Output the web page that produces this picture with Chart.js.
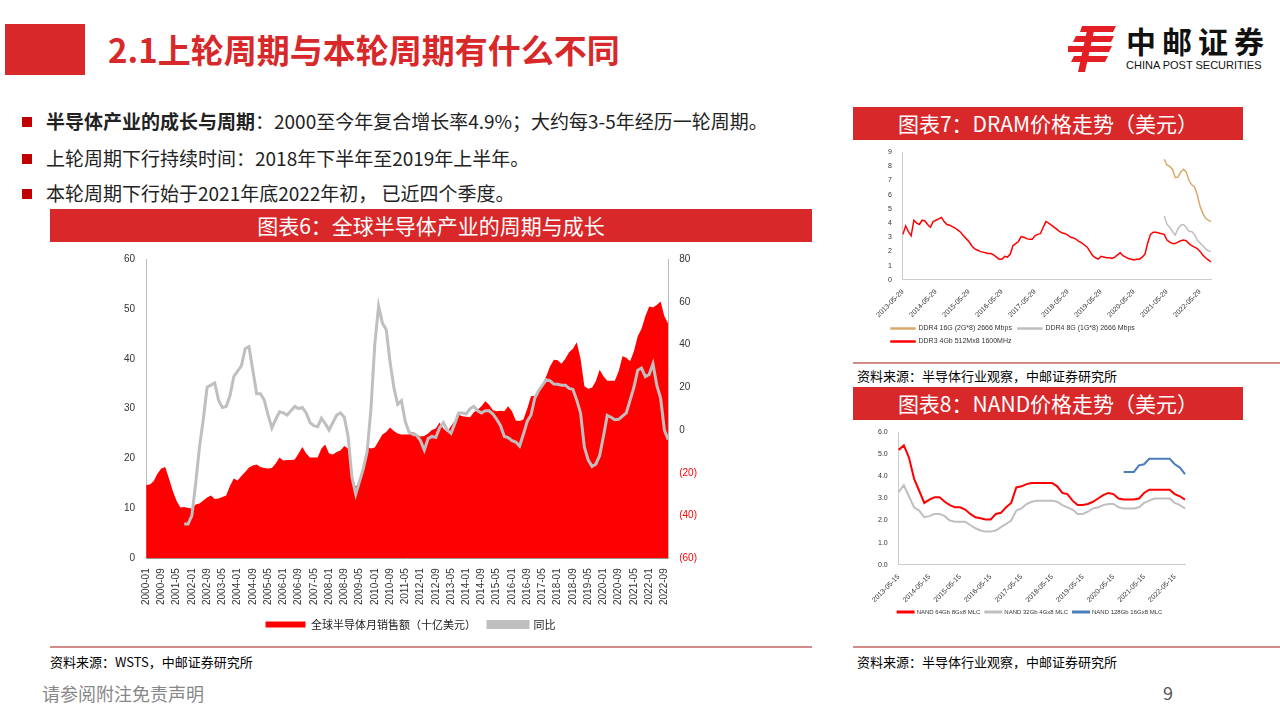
<!DOCTYPE html>
<html><head><meta charset="utf-8">
<script src="https://cdn.jsdelivr.net/npm/chart.js@4/dist/chart.umd.min.js"></script>
<style>
body{margin:0;width:1280px;height:720px;position:relative;background:#fff;font-family:"Noto Sans CJK SC","Noto Sans",sans-serif;overflow:hidden}
.abs{position:absolute}
.banner{position:absolute;background:#d9282a;color:#fff;text-align:center;font-size:21px;line-height:33px}
.bul{position:absolute;left:22px;font-size:19px;color:#222}
.bul:before{content:"";display:inline-block;width:10px;height:10px;background:#c00000;margin-right:14px;vertical-align:2px}
.src{position:absolute;font-size:13px;color:#000}
.hl{position:absolute;height:2px;background:#d58a8a}
canvas{position:absolute}
</style></head><body>
<div class="abs" style="left:5px;top:24px;width:80px;height:51px;background:#d9282a"></div>
<div class="abs" style="left:108px;top:24px;font-size:33px;font-weight:bold;color:#d9282a;line-height:50px">2.1上轮周期与本轮周期有什么不同</div>
<svg class="abs" style="left:1068px;top:26px" width="50" height="46" viewBox="0 0 50 46">
<g fill="#e31e24"><path d="M14 0h34l-3 6H12z"/><path d="M8 10h38l-3 6H5z"/><path d="M0 20h44l-3 6H0z"/><path d="M6 30h34l-3 6H3z"/><path d="M20 0h7l-10 46h-7z"/></g></svg>
<div class="abs" style="left:1126px;top:22px;font-size:30px;font-weight:bold;color:#111;letter-spacing:6px;line-height:36px">中邮证券</div>
<div class="abs" style="left:1126px;top:59px;font-size:11px;color:#111;font-family:'Liberation Sans'">CHINA POST SECURITIES</div>

<div class="bul" style="top:107px"><b>半导体产业的成长与周期</b>：2000至今年复合增长率4.9%；大约每3-5年经历一轮周期。</div>
<div class="bul" style="top:144px">上轮周期下行持续时间：2018年下半年至2019年上半年。</div>
<div class="bul" style="top:179px">本轮周期下行始于2021年底2022年初， 已近四个季度。</div>

<div class="banner" style="left:50px;top:209px;width:762px">图表6：全球半导体产业的周期与成长</div>
<canvas id="c1" style="left:100px;top:250px"></canvas>
<div class="hl" style="left:50px;top:646px;width:762px"></div>
<div class="src" style="left:50px;top:652px">资料来源：WSTS，中邮证券研究所</div>

<div class="banner" style="left:853px;top:107px;width:390px">图表7：DRAM价格走势（美元）</div>
<canvas id="c2" style="left:855px;top:145px"></canvas>
<div class="hl" style="left:853px;top:362px;width:427px"></div>
<div class="src" style="left:857px;top:366px">资料来源：半导体行业观察，中邮证券研究所</div>

<div class="banner" style="left:853px;top:387px;width:390px">图表8：NAND价格走势（美元）</div>
<canvas id="c3" style="left:855px;top:425px"></canvas>
<div class="hl" style="left:853px;top:646px;width:427px"></div>
<div class="src" style="left:857px;top:652px">资料来源：半导体行业观察，中邮证券研究所</div>

<div class="abs" style="left:42px;top:680px;font-size:18px;color:#888">请参阅附注免责声明</div>
<div class="abs" style="left:1163px;top:679px;font-size:18px;color:#555">9</div>
<script>
// ---- Chart 6 data (2-month steps, 2000-01 .. 2022-11)
const salesLabels=[];for(let m=0;m<=274;m+=2){salesLabels.push((2000+Math.floor(m/12))+'-'+String(m%12+1).padStart(2,'0'));}
const sales=[14.7,14.8,15.5,17,18,18.3,16,13.5,11.5,10.2,10.3,10.1,10,10.8,11,11.6,12.2,12.6,11.9,12,12.3,12.6,14.5,16,15.6,16.5,17.3,18.2,18.6,18.8,18.3,18.1,18,18.1,19,20.2,19.6,19.7,19.7,19.8,21,22.3,21,20.2,20.2,20.2,22,22.8,21,20.8,21.3,21.6,22.5,22,16.5,14.3,15.5,18,22.3,22,22.2,23.5,24.8,25.3,26.2,25.5,25,24.8,24.8,24.8,25.3,24.8,24.4,24.5,25,25.7,26,27.2,26,25.3,26.5,27.5,28.8,28.5,28.4,28.3,29.3,29.8,30.5,31.5,30.8,29.7,29.5,29.6,29.5,30.5,29.5,27.6,27.5,27.8,30,32.5,32.6,33.5,35,36.5,38.5,39.8,39.7,39,40,41.3,42,43.3,40,34.5,34,34.2,35.5,37.8,36.5,35.6,35.6,35.6,37.5,40.5,40.2,39.5,41.5,44.5,46,48.5,50.5,50.3,50.8,51.5,48.5,47];
const yoy=[null,null,null,null,null,null,13.7,null,-15.6,null,-44,-44,-40,-25,-8,5,20,21,22,14,10.5,11,16,25,27.5,30,38,39,28,17,17,14,7,1,5,8.5,8,7,9,11,10,10.5,8,3.5,2,1.5,5.5,3,0,3.5,7,8,6,-3,-22,-30,-24,-18,-10,10,40,58,50,47,32,20,12,13.7,4,-1,-2,-2.5,-5,-9.4,-4,-3,-3.5,1,3.5,0,-1.5,3,8,8,7.5,10,11,9,8,9,9,7.5,5,2,-3,-3.5,-5,-5.6,-7.5,-2,4,7,15,18.5,21,23.5,23,21.5,21.4,21,21,19.5,19,14,8,-8,-14,-17,-16,-12,-3,6.8,6,4.8,5,6.5,8,14,20,28,29,25,26,31,21,15,0,-4.5];
const leftTicks=[0,10,20,30,40,50,60];
const rightTicks=[-60,-40,-20,0,20,40,60,80];

// ---- Chart 7 data (monthly, 2013-05 .. 2022-09)
const dramLabels=[];for(let k=0;k<=112;k++){const mm=4+k;dramLabels.push((2013+Math.floor(mm/12))+'-'+String(mm%12+1).padStart(2,'0')+'-29');}
const ddr3=[3.2,3.8,3.4,3.1,4.2,4.0,3.9,4.2,4.15,3.9,3.7,4.1,4.2,4.3,4.4,4.1,3.9,3.85,3.75,3.65,3.5,3.35,3.1,2.9,2.7,2.4,2.2,2.1,2.0,1.95,1.9,1.85,1.85,1.75,1.6,1.45,1.45,1.65,1.6,1.8,2.4,2.55,2.7,3.05,3.0,2.9,2.85,2.85,3.1,3.2,3.25,3.7,4.1,4.0,3.85,3.7,3.55,3.4,3.3,3.25,3.15,3.0,2.95,2.85,2.7,2.6,2.45,2.3,2.0,1.7,1.55,1.45,1.65,1.6,1.55,1.55,1.5,1.6,1.75,1.9,1.7,1.6,1.5,1.45,1.4,1.45,1.45,1.6,1.8,2.6,3.2,3.35,3.35,3.3,3.25,3.2,2.8,2.65,2.55,2.55,2.65,2.75,2.8,2.75,2.55,2.4,2.3,2.2,2.0,1.75,1.55,1.4,1.25];
const ddr4_16=Array(95).fill(null).concat([8.5,8.1,8.0,7.8,7.2,7.25,7.6,7.8,7.6,7.0,6.7,6.55,6.0,5.2,4.7,4.35,4.2,4.1]);
const ddr4_8=Array(95).fill(null).concat([4.5,3.9,3.7,3.4,3.15,3.6,3.85,3.9,3.7,3.4,3.4,3.2,2.8,2.6,2.4,2.2,2.05,2.0]);

// ---- Chart 8 data (2-month, 2013-05 .. 2022-09)
const nandLabels=[];for(let j=0;j<=56;j++){const mm=4+2*j;nandLabels.push((2013+Math.floor(mm/12))+'-'+String(mm%12+1).padStart(2,'0')+'-15');}
const nand64=[5.2,5.4,4.85,3.9,3.35,2.8,2.95,3.05,3.05,2.85,2.7,2.6,2.6,2.5,2.3,2.15,2.1,2.05,2.05,2.3,2.35,2.6,2.8,3.5,3.55,3.65,3.7,3.7,3.7,3.7,3.7,3.55,3.25,3.2,2.9,2.7,2.7,2.75,2.85,3.0,3.15,3.25,3.2,3.0,2.95,2.95,2.95,3.0,3.25,3.4,3.4,3.4,3.4,3.4,3.2,3.1,2.95];
const nand32=[3.3,3.6,3.1,2.6,2.45,2.15,2.2,2.3,2.3,2.2,2.0,1.95,1.95,1.95,1.8,1.65,1.55,1.5,1.5,1.55,1.7,1.85,2.0,2.45,2.55,2.75,2.85,2.9,2.9,2.9,2.9,2.85,2.7,2.6,2.5,2.3,2.3,2.4,2.55,2.6,2.7,2.75,2.75,2.6,2.55,2.55,2.55,2.6,2.8,2.9,3.0,3.0,3.0,3.0,2.8,2.7,2.55];
const nand128=Array(44).fill(null).concat([4.2,4.2,4.2,4.5,4.55,4.8,4.8,4.8,4.8,4.8,4.55,4.4,4.1]);

const TF={family:"'Liberation Sans',Arial",size:10};
function setup(id,w,h){const c=document.getElementById(id);c.width=w;c.height=h;c.style.width=w+'px';c.style.height=h+'px';return c;}

new Chart(setup('c1',600,390),{
 data:{labels:salesLabels,datasets:[
  {type:'line',label:'同比',data:yoy,yAxisID:'y1',borderColor:'#bfbfbf',borderWidth:3,pointRadius:0,spanGaps:false,order:0,backgroundColor:'#bfbfbf'},
  {type:'line',label:'全球半导体月销售额（十亿美元）',data:sales,yAxisID:'y',borderWidth:0,borderColor:'#ff0000',backgroundColor:'#ff0000',fill:'origin',pointRadius:0,order:1}
 ]},
 options:{responsive:false,animation:false,layout:{padding:{left:21,right:0,top:5,bottom:0}},
  plugins:{legend:{position:'bottom',reverse:true,labels:{boxWidth:40,boxHeight:6,font:{family:"'Noto Sans CJK SC'",size:11},color:'#222',padding:12}},tooltip:{enabled:false}},
  scales:{
   x:{grid:{display:false},border:{color:'#999'},ticks:{autoSkip:false,maxRotation:90,minRotation:90,font:TF,color:'#333',padding:2,callback:function(v,i){return i%4===0?this.getLabelForValue(v):'';}}},
   y:{position:'left',min:0,max:60,afterBuildTicks:a=>{a.ticks=leftTicks.map(v=>({value:v}));},grid:{display:false},border:{color:'#bbb'},ticks:{font:TF,color:'#333'}},
   y1:{position:'right',min:-60,max:80,afterBuildTicks:a=>{a.ticks=rightTicks.map(v=>({value:v}));},grid:{display:false},border:{color:'#bbb'},ticks:{font:TF,color:c=>c.tick.value<0?'#ff0000':'#333',callback:v=>v<0?'('+(-v)+')':v}}
  }}
});

new Chart(setup('c2',370,210),{type:'line',
 data:{labels:dramLabels,datasets:[
  {label:'DDR4 16G (2G*8) 2666 Mbps',data:ddr4_16,borderColor:'#d9a86c',backgroundColor:'#d9a86c',borderWidth:1.5,pointRadius:0},
  {label:'DDR4 8G (1G*8) 2666 Mbps',data:ddr4_8,borderColor:'#bfbfbf',backgroundColor:'#bfbfbf',borderWidth:1.5,pointRadius:0},
  {label:'DDR3 4Gb 512Mx8 1600MHz',data:ddr3,borderColor:'#ff0000',backgroundColor:'#ff0000',borderWidth:1.5,pointRadius:0}
 ]},
 options:{responsive:false,animation:false,layout:{padding:{left:30,right:14,top:2}},
  plugins:{legend:{position:'bottom',align:'start',labels:{boxWidth:24,boxHeight:1,font:{family:"'Liberation Sans'",size:7},color:'#333',padding:6}},tooltip:{enabled:false}},
  scales:{x:{grid:{display:false},border:{color:'#ccc'},ticks:{autoSkip:false,maxRotation:45,minRotation:45,font:{family:"'Liberation Sans'",size:7},color:'#333',padding:0,callback:function(v,i){return i%12===0?this.getLabelForValue(v):'';}}},
   y:{min:0,max:9,grid:{display:false},border:{color:'#ccc'},ticks:{stepSize:1,font:{family:"'Liberation Sans'",size:7},color:'#333'}}}}
});

new Chart(setup('c3',370,200),{type:'line',
 data:{labels:nandLabels,datasets:[
  {label:'NAND 64Gb 8Gx8 MLC',data:nand64,borderColor:'#ff0000',backgroundColor:'#ff0000',borderWidth:2,pointRadius:0},
  {label:'NAND 32Gb 4Gx8 MLC',data:nand32,borderColor:'#bfbfbf',backgroundColor:'#bfbfbf',borderWidth:2,pointRadius:0},
  {label:'NAND 128Gb 16Gx8 MLC',data:nand128,borderColor:'#4a7ebb',backgroundColor:'#4a7ebb',borderWidth:2,pointRadius:0}
 ]},
 options:{responsive:false,animation:false,layout:{padding:{left:20,right:40,top:2}},
  plugins:{legend:{position:'bottom',labels:{boxWidth:16,boxHeight:1,font:{family:"'Liberation Sans'",size:6},color:'#333',padding:5}},tooltip:{enabled:false}},
  scales:{x:{grid:{display:false},border:{color:'#ccc'},ticks:{autoSkip:false,maxRotation:45,minRotation:45,font:{family:"'Liberation Sans'",size:7},color:'#333',padding:0,callback:function(v,i){return i%6===0?this.getLabelForValue(v):'';}}},
   y:{min:0,max:6,grid:{display:false},border:{color:'#ccc'},ticks:{stepSize:1,font:{family:"'Liberation Sans'",size:7},color:'#333',callback:v=>v.toFixed(1)}}}}
});
</script></body></html>
